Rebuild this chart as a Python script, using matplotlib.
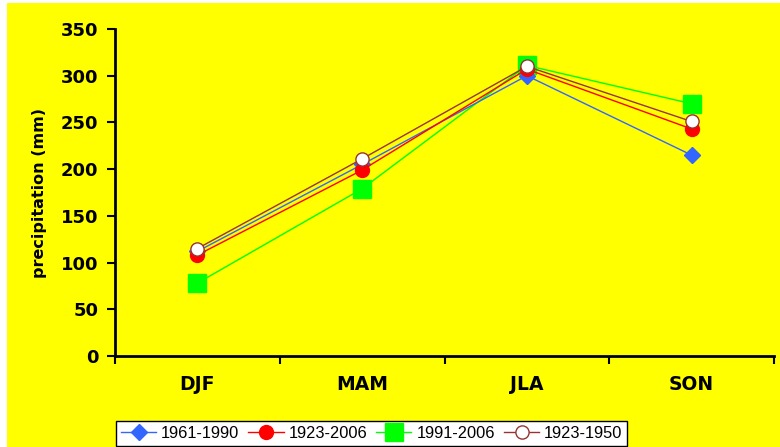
import matplotlib
matplotlib.use("Agg")
import matplotlib.pyplot as plt
from matplotlib.patches import Rectangle

plt.rcParams['font.family'] = ['Liberation Sans', 'DejaVu Sans']

seasons = ['DJF', 'MAM', 'JLA', 'SON']
p1961_1990 = [112, 205, 300, 215]
p1923_2006 = [108, 199, 307, 243]
p1991_2006 = [78, 179, 311, 270]
p1923_1950 = [115, 211, 310, 251]
yticks = [0, 50, 100, 150, 200, 250, 300, 350]

W, H = 780, 447
fig = plt.figure(figsize=(W / 100, H / 100), dpi=100, facecolor='white')
# yellow chart area with a thin white margin on top/left
fig.patches.append(Rectangle((7 / W, 0), 1 - 7 / W, 1 - 3 / H, transform=fig.transFigure,
                             facecolor='#FFFF00', edgecolor='none', zorder=-10))

ax = fig.add_axes([115 / W, (H - 356) / H, (774 - 115) / W, (356 - 29) / H])
ax.set_facecolor('none')

x = range(len(seasons))
ax.plot(x, p1961_1990, color='#3366FF', lw=1, marker='D', ms=8.5,
        mfc='#3366FF', mec='#3366FF', label='1961-1990', zorder=3)
ax.plot(x, p1923_2006, color='#FF0000', lw=1, marker='o', ms=10,
        mfc='#FF0000', mec='#FF0000', label='1923-2006', zorder=4)
ax.plot(x, p1991_2006, color='#00FF00', lw=1, marker='s', ms=12.5,
        mfc='#00FF00', mec='#00FF00', label='1991-2006', zorder=2)
ax.plot(x, p1923_1950, color='#993333', lw=1, marker='o', ms=9.5,
        mfc='white', mec='#993333', mew=1, label='1923-1950', zorder=5)

# wide bold face for axis text (the original looks horizontally stretched)
bold = dict(family='DejaVu Sans', fontweight='bold')
ax.set_xlim(-0.5, 3.5)
ax.set_ylim(0, 350)
ax.set_yticks(yticks)
ax.set_yticklabels([str(v) for v in yticks], fontsize=13, **bold)
ax.set_xticks(list(x))
ax.set_xticklabels(seasons, fontsize=13.5, **bold)
ax.set_xticks([-0.5, 0.5, 1.5, 2.5, 3.5], minor=True)
ax.tick_params(axis='x', which='major', length=0, pad=14)
ax.tick_params(axis='x', which='minor', length=6, width=1.5, direction='out')
ax.tick_params(axis='y', length=6, width=1.5, direction='out', pad=6)
for s in ['top', 'right']:
    ax.spines[s].set_visible(False)
for s in ['left', 'bottom']:
    ax.spines[s].set_linewidth(2)
ax.set_ylabel('precipitation (mm)', fontsize=11.5, labelpad=10, **bold)

leg = fig.legend(loc='lower left', bbox_to_anchor=(116 / W, 1 / H),
                 ncol=4, fontsize=11.8, frameon=True, fancybox=False,
                 edgecolor='black', framealpha=1, borderpad=0.3, handlelength=2.15,
                 handletextpad=0.3, columnspacing=0.55, borderaxespad=0)
leg.get_frame().set_linewidth(1)

fig.savefig('out.png', dpi=100, facecolor='white')
